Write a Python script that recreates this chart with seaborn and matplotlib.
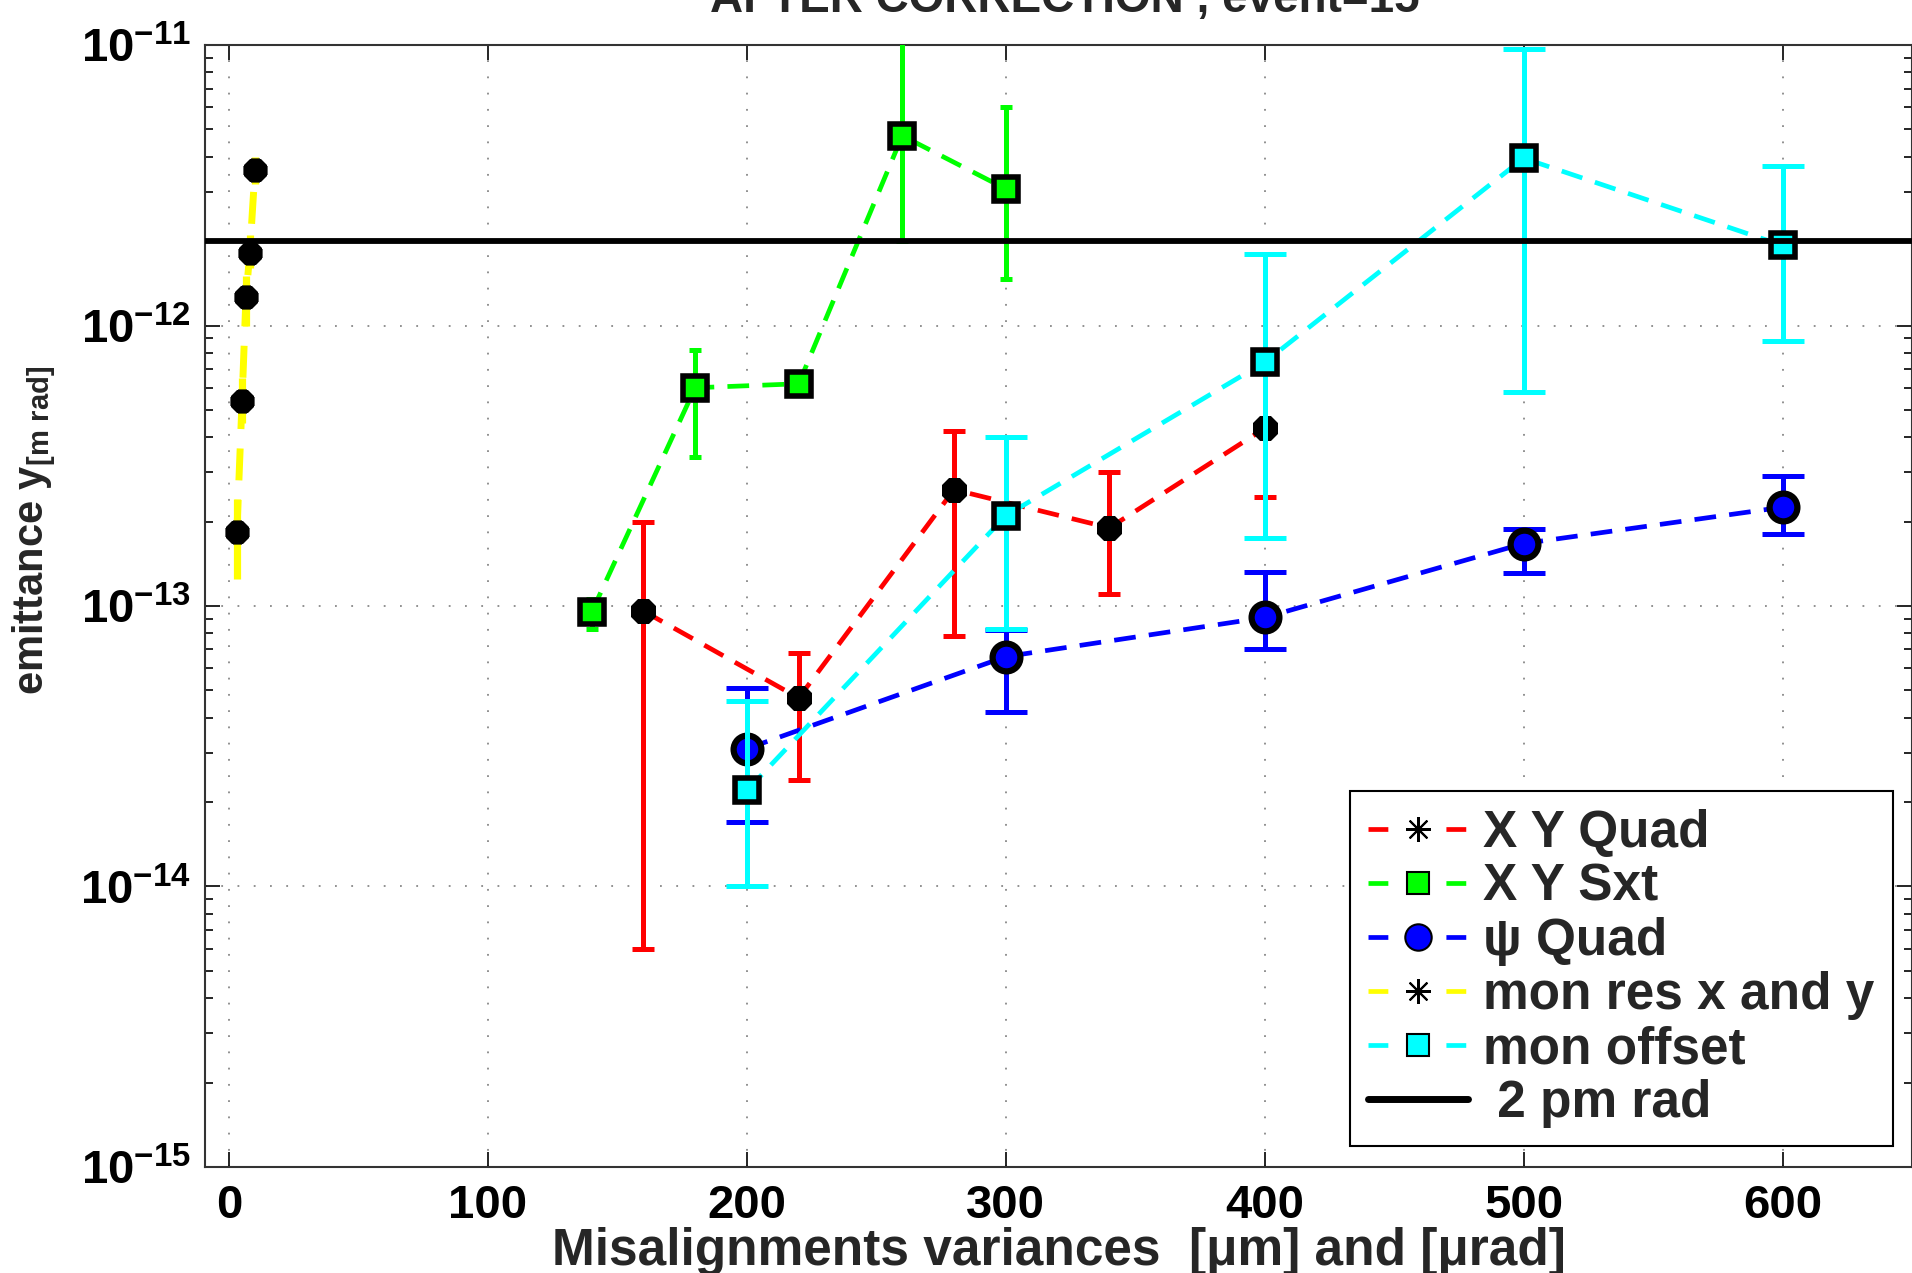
import numpy as np
import matplotlib
matplotlib.use("Agg")
import matplotlib.pyplot as plt
import seaborn as sns
from matplotlib.lines import Line2D
from matplotlib.ticker import LogLocator, NullFormatter, FixedLocator, LogFormatterSciNotation

# ---------------- data ----------------
quad_x = [160, 220, 280, 340, 400]
quad_y = [9.6e-14, 4.7e-14, 2.6e-13, 1.9e-13, 4.3e-13]
quad_lo = [6.0e-15, 2.4e-14, 7.8e-14, 1.1e-13, 2.45e-13]
quad_hi = [2.0e-13, 6.8e-14, 4.2e-13, 3.0e-13, 7.0e-13]

sxt_x = [140, 180, 220, 260, 300]
sxt_y = [9.5e-14, 6.0e-13, 6.2e-13, 4.75e-12, 3.07e-12]
sxt_lo = [8.3e-14, 3.4e-13, 5.8e-13, 2.0e-12, 1.46e-12]
sxt_hi = [1.06e-13, 8.2e-13, 6.6e-13, 1.5e-11, 6.0e-12]

psi_x = [200, 300, 400, 500, 600]
psi_y = [3.1e-14, 6.6e-14, 9.1e-14, 1.67e-13, 2.25e-13]
psi_lo = [1.7e-14, 4.2e-14, 7.0e-14, 1.31e-13, 1.8e-13]
psi_hi = [5.1e-14, 8.2e-14, 1.32e-13, 1.88e-13, 2.9e-13]

res_x = [3, 5, 6.5, 8, 10]
res_y = [1.84e-13, 5.4e-13, 1.26e-12, 1.82e-12, 3.6e-12]
res_lo = [1.25e-13, 4.5e-13, 1.0e-12, 1.6e-12, 3.2e-12]
res_hi = [2.4e-13, 6.5e-13, 1.5e-12, 2.1e-12, 4.0e-12]

off_x = [200, 300, 400, 500, 600]
off_y = [2.2e-14, 2.1e-13, 7.4e-13, 3.95e-12, 1.93e-12]
off_lo = [1.0e-14, 8.3e-14, 1.75e-13, 5.8e-13, 8.8e-13]
off_hi = [4.6e-14, 4.0e-13, 1.8e-12, 9.7e-12, 3.7e-12]

threshold = 2e-12

labels = ["X Y Quad", "X Y Sxt", "\u03c8 Quad", "mon res x and y", "mon offset", " 2 pm rad"]
x_ticks = [0, 100, 200, 300, 400, 500, 600]
y_ticks = [1e-15, 1e-14, 1e-13, 1e-12, 1e-11]
title = "AFTER CORRECTION , event=15"
xlabel = "Misalignments variances  [\u03bcm] and [\u03bcrad]"
ylabel = r"emittance y$_{\mathbf{[m\ rad]}}$"

# ---------------- style ----------------
sns.set_style("ticks")
plt.rcParams["font.family"] = ["Liberation Sans", "DejaVu Sans"]
plt.rcParams["font.weight"] = "bold"
plt.rcParams["mathtext.fontset"] = "custom"
plt.rcParams["mathtext.rm"] = "Liberation Sans:bold"
plt.rcParams["mathtext.bf"] = "Liberation Sans:bold"
plt.rcParams["mathtext.it"] = "Liberation Sans:bold:italic"
plt.rcParams["mathtext.default"] = "bf"

fig = plt.figure(figsize=(19.12, 12.73), dpi=100)
ax = fig.add_axes([0.1071, 0.0833, 0.8929, 0.8813])

series = [
    dict(x=quad_x, y=quad_y, lo=quad_lo, hi=quad_hi, c="#ff0000", marker=(8, 2, 0),
         ms=18, mfc="k", mec="k", mew=7, cap=8, lw=3.4),
    dict(x=sxt_x, y=sxt_y, lo=sxt_lo, hi=sxt_hi, c="#00ff00", marker="s",
         ms=17, mfc="#00ff00", mec="k", mew=4, cap=4, lw=3.4),
    dict(x=psi_x, y=psi_y, lo=psi_lo, hi=psi_hi, c="#0000ff", marker="o",
         ms=20, mfc="#0000ff", mec="k", mew=4.5, cap=15, lw=3.4),
    dict(x=res_x, y=res_y, lo=res_lo, hi=res_hi, c="#ffff00", marker=(8, 2, 0),
         ms=17, mfc="k", mec="k", mew=6.5, cap=0, lw=5.0),
    dict(x=off_x, y=off_y, lo=off_lo, hi=off_hi, c="#00ffff", marker="s",
         ms=17, mfc="#00ffff", mec="k", mew=4, cap=15, lw=3.4),
]

for i, s in enumerate(series):
    x = np.array(s["x"], float)
    y = np.array(s["y"], float)
    lo = np.array(s["lo"], float)
    hi = np.array(s["hi"], float)
    z = 2 + i
    sns.lineplot(x=x, y=y, ax=ax, color=s["c"], linewidth=s["lw"],
                 linestyle=(0, (4.6, 2.8)), zorder=z + 0.2, sort=False,
                 estimator=None)
    ax.errorbar(x, y, yerr=[y - lo, hi - y], fmt="none", ecolor=s["c"],
                elinewidth=s["lw"] + 0.2, capsize=s["cap"], capthick=3.6,
                zorder=z + 0.1)
    ax.plot(x, y, linestyle="none", marker=s["marker"], markersize=s["ms"],
            markerfacecolor=s["mfc"], markeredgecolor=s["mec"],
            markeredgewidth=s["mew"], zorder=z + 0.3)

ax.axhline(threshold, color="k", lw=4.2, zorder=20)

ax.set_yscale("log")
ax.set_xlim(-9.4, 650)
ax.set_ylim(1e-15, 1e-11)
ax.xaxis.set_major_locator(FixedLocator(x_ticks))
ax.set_xticklabels([str(t) for t in x_ticks])
ax.yaxis.set_major_locator(FixedLocator(y_ticks))
ax.yaxis.set_major_formatter(LogFormatterSciNotation())
ax.yaxis.set_minor_locator(LogLocator(base=10, subs=np.arange(2, 10), numticks=20))
ax.yaxis.set_minor_formatter(NullFormatter())

ax.tick_params(axis="both", which="both", direction="in", top=True, right=True,
               colors="k", width=1.2)
ax.tick_params(axis="both", which="major", length=11, labelsize=34)
ax.tick_params(axis="y", which="minor", length=6)
ax.tick_params(axis="x", which="major", pad=12)
ax.tick_params(axis="y", which="major", pad=10)
for sp in ax.spines.values():
    sp.set_color("#333333")
    sp.set_linewidth(1.5)

ax.grid(True, which="major", color="#888888", linestyle=(0, (1, 8)), linewidth=1.3)

# legend
handles = []
for s in series:
    if s["marker"] == (8, 2, 0):
        h = Line2D([], [], color=s["c"], lw=3.4, linestyle=(0, (4.2, 12.3)),
                   marker=(8, 2, 0), markersize=18, markeredgecolor="k",
                   markerfacecolor="k", markeredgewidth=1.5)
    else:
        h = Line2D([], [], color=s["c"], lw=3.4, linestyle=(0, (4.2, 12.3)),
                   marker=s["marker"], markersize=16 if s["marker"] == "s" else 19,
                   markeredgecolor="k", markerfacecolor=s["mfc"], markeredgewidth=1.5)
    handles.append(h)
handles.append(Line2D([], [], color="k", lw=5))

leg = ax.legend(handles, labels, loc="lower right", bbox_to_anchor=(0.9886, 0.0185),
                borderaxespad=0, prop={"family": "Liberation Sans", "weight": "bold",
                                        "size": 37},
                handlelength=1.95, handletextpad=0.3,
                labelspacing=0.1, borderpad=0.35, frameon=True, fancybox=False,
                framealpha=1, edgecolor="k")
leg.get_frame().set_linewidth(1.5)
leg.set_zorder(30)

fig.text(0.557, 1 - 12 / 1273, title, ha="center", va="baseline", fontsize=33,
         weight="bold")
fig.text(0.554, 0.006, xlabel, ha="center", va="baseline", fontsize=37, weight="bold")
fig.text(0.018, 0.583, ylabel, ha="center", va="center", rotation=90, fontsize=30,
         weight="bold")

fig.savefig("out.png", dpi=100)
